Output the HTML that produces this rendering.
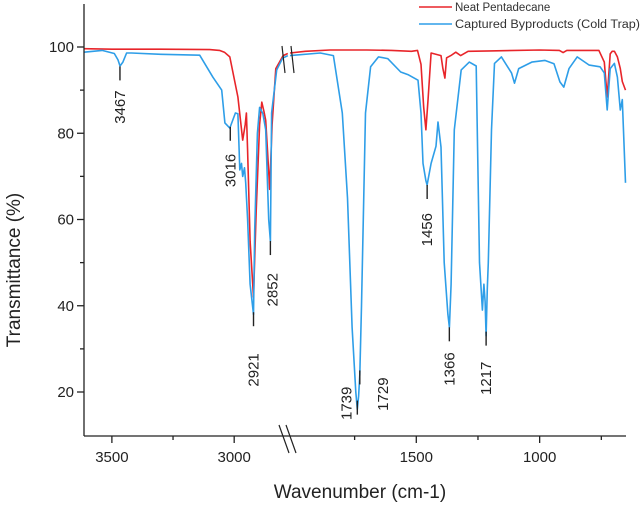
<!DOCTYPE html>
<html><head><meta charset="utf-8"><style>
body{margin:0;background:#fff}
svg{display:block;font-family:"Liberation Sans",Arial,sans-serif}
</style></head><body>
<svg id="c" width="643" height="506" viewBox="0 0 643 506"></svg>
<script>
// ---- data ----
const redWn = [3614,3500,3300,3100,3060,3040,3018,2985,2965,2955,2950,2945,2935,2921,2910,2896,2887,2878,2871,2864,2855,2845,2830,2800,2781,
               2012,1950,1850,1700,1600,1520,1495,1481,1470,1461,1452,1440,1400,1392,1384,1377,1360,1340,1320,1290,1200,1000,920,905,890,760,738,726,718,714,706,697,685,673,665,652];
const redT  = [99.6,99.5,99.5,99.4,99.2,98.8,97.7,88.4,78.4,82,84.7,76,55,42,62,82,87.2,85,83,76,67,82,95,98,98.5,
               98.6,99,99.3,99.3,99.2,99,99.2,96,86,80.8,88,98.6,98,95,92.8,97.5,98,98.8,98,99,99.1,99.3,99.2,98.7,99.2,99.2,96.5,88.4,95,98.4,99,99,97.7,95,92,90];
const blueWn = [3614,3540,3490,3475,3467,3455,3440,3420,3300,3141,3087,3051,3038,3018,2995,2985,2977,2970,2965,2958,2953,2945,2935,2921,2916,2905,2896,2883,2875,2871,2859,2852,2847,2826,2802,2781,
                2012,1889,1836,1800,1779,1760,1745,1739,1734,1729,1722,1706,1685,1653,1616,1563,1534,1493,1481,1473,1461,1456,1440,1420,1412,1400,1387,1372,1366,1359,1346,1318,1285,1257,1244,1232,1226,1221,1217,1212,1208,1195,1183,1155,1114,1102,1085,1032,979,942,918,902,881,848,799,755,738,726,714,697,685,673,665,652];
const blueT  = [98.8,99.2,98.5,97,95.6,96.5,98.6,98.6,98.3,98.1,93,90,82.4,81.2,84.7,84.5,71.5,73,70,72,68.5,60,45,38,57.5,80,86,84.6,82,80.8,60,55,84.7,94.7,97.4,98,
                98,98.6,98,84.7,65,35,20,16,19,24,40,84.7,95.4,97.7,97.3,94.2,93.6,92.3,84.7,73,69,68,73,77,82.6,76.8,50,38,35,45,80.8,94.7,96.5,95.6,50,39,45,41,33,44,50,80.8,96.2,97.7,94,91.6,95,96.5,96.9,96.1,91.9,90.7,95,97.7,95.8,95.4,94,85.4,95,96.2,93,85.4,87.8,68.5];
const yTicks = [20,40,60,80,100];
const yMinor = [30,50,70,90];
const xTicksL = [3500,3000];
const xTicksR = [1500,1000];
const xMinorL = [3250];
const xMinorR = [1750,1250,750];
const peakWn = [3467,3016,2921,2852,1739,1729,1456,1366,1217];
const peakTickTop = [95.5,81.5,38.5,55,18,25,68,35,34];

// label placement (pixel offsets, layout only)
const peakLabelDx = [0,0,0,2,-11,23,0,0,0];
const peakLabelDy = [24,27,41,32,-14,7,28,25,30];

// ---- axes ----
const X0=84,X1=626,BRK=288,Y_TOP=4,Y_BOT=436;
const LMAX=3614,LMIN=2780,RMAX=2020,RMIN=650;
function xs(w){ return w>=2400 ? X0+(LMAX-w)*(BRK-X0)/(LMAX-LMIN) : BRK+(RMAX-w)*(X1-BRK)/(RMAX-RMIN); }
function ys(t){ return 47+(100-t)*4.3125; }

const S=document.getElementById('c');
const NS='http://www.w3.org/2000/svg';
function mk(tag,attrs,parent){const e=document.createElementNS(NS,tag);for(const k in attrs)e.setAttribute(k,attrs[k]);(parent||S).appendChild(e);return e;}

function series(wn,t,color,name){
  const g=mk('g',{});
  
  
  let segL=[],segR=[];
  wn.forEach((w,i)=>{(w>=2400?segL:segR).push(xs(w).toFixed(1)+','+ys(t[i]).toFixed(1));});
  [segL,segR].forEach(s=>{const p=mk('polyline',{points:s.join(' '),fill:'none',stroke:color,'stroke-width':1.6,'stroke-linejoin':'round'},g);
    
    });
}
series(redWn,redT,'#e8252a','series-neat-pentadecane');
series(blueWn,blueT,'#2e9ee8','series-captured-byproducts');

const ax=mk('g',{stroke:'#222','stroke-width':1.3});


mk('line',{x1:X0,y1:Y_TOP,x2:X0,y2:Y_BOT},ax);
mk('line',{x1:X0,y1:Y_BOT,x2:X1,y2:Y_BOT},ax);
yTicks.forEach(v=>{mk('line',{x1:X0-7,y1:ys(v),x2:X0,y2:ys(v)},ax);
  const t=mk('text',{x:X0-10,y:ys(v)+5,'text-anchor':'end','font-size':15,fill:'#222',stroke:'none'});t.textContent=v;
  
  });
yMinor.forEach(v=>mk('line',{x1:X0-4,y1:ys(v),x2:X0,y2:ys(v)},ax));
xTicksL.concat(xTicksR).forEach(v=>{const x=xs(v);mk('line',{x1:x,y1:Y_BOT,x2:x,y2:Y_BOT+7},ax);
  const t=mk('text',{x:x,y:Y_BOT+26,'text-anchor':'middle','font-size':15,fill:'#222',stroke:'none'});t.textContent=v;
  
  });
xMinorL.concat(xMinorR).forEach(v=>{const x=xs(v);mk('line',{x1:x,y1:Y_BOT,x2:x,y2:Y_BOT+4},ax);});

const bk=mk('g',{stroke:'#222','stroke-width':1.2});


mk('line',{x1:279,y1:425,x2:289,y2:453},bk);mk('line',{x1:286,y1:425,x2:296,y2:453},bk);
mk('line',{x1:282,y1:46,x2:285,y2:73},bk);mk('line',{x1:291,y1:46,x2:294,y2:73},bk);

peakWn.forEach((w,i)=>{
  const x=xs(w),y0=ys(peakTickTop[i]);
  const l=mk('line',{x1:x,y1:y0,x2:x,y2:y0+14,stroke:'#222','stroke-width':1.4});
  
  
  const tx=x+peakLabelDx[i]+5, ty=y0+peakLabelDy[i];
  const t=mk('text',{x:tx,y:ty,transform:`rotate(-90 ${tx} ${ty})`,'text-anchor':'end','font-size':15,fill:'#222'});
  t.textContent=w;
  
  
});

let t=mk('text',{x:360,y:498,'text-anchor':'middle','font-size':19,fill:'#222'});t.textContent='Wavenumber (cm-1)';


t=mk('text',{x:20,y:270,transform:'rotate(-90 20 270)','text-anchor':'middle','font-size':19,fill:'#222'});t.textContent='Transmittance (%)';



const lg=mk('g',{});


mk('line',{x1:419,y1:7,x2:452,y2:7,stroke:'#e8252a','stroke-width':1.6},lg);
mk('line',{x1:419,y1:24,x2:452,y2:24,stroke:'#2e9ee8','stroke-width':1.6},lg);
t=mk('text',{x:455,y:11,'font-size':11.5,fill:'#333'},lg);t.textContent='Neat Pentadecane';


t=mk('text',{x:455,y:28,'font-size':11.5,fill:'#333',textLength:185,lengthAdjust:'spacingAndGlyphs'},lg);t.textContent='Captured Byproducts (Cold Trap)';


</script>
</body></html>
